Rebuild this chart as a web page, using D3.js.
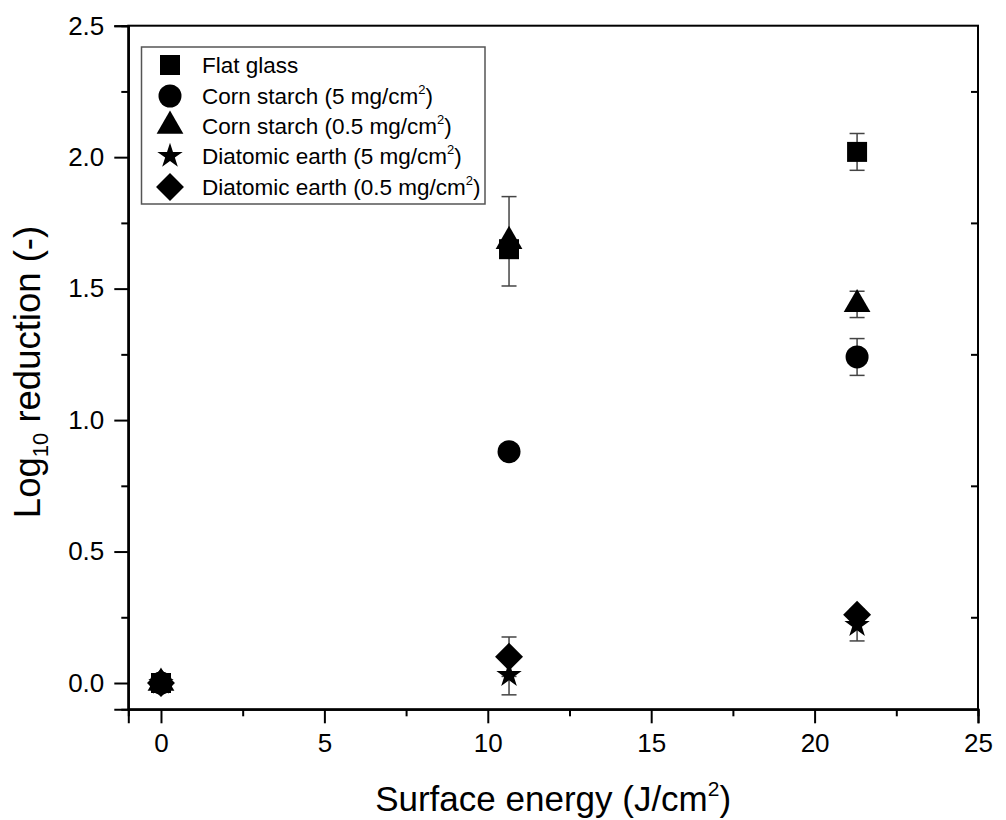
<!DOCTYPE html>
<html>
<head>
<meta charset="utf-8">
<script src="https://cdn.jsdelivr.net/npm/d3@7"></script>
<style>
  body { margin: 0; background: #fff; }
  svg { font-family: "Liberation Sans", Arial, sans-serif; }
</style>
</head>
<body>
<div id="chart"></div>
<script>
// data
var energy = [0, 10.65, 21.3];

var flatGlass = [0, 1.65, 2.02];
var flatGlassErr = [0, 0.03, 0.07];
var cornStarch5 = [0, 0.88, 1.24];
var cornStarch5Err = [0, 0.02, 0.07];
var cornStarch05 = [0, 1.68, 1.44];
var cornStarch05Err = [0, 0.17, 0.05];
var diatomic5 = [0, 0.03, 0.22];
var diatomic5Err = [0, 0.075, 0.06];
var diatomic05 = [0, 0.10, 0.26];
var diatomic05Err = [0, 0.075, 0.02];

var seriesNames = ["Flat glass", "Corn starch", "Corn starch", "Diatomic earth", "Diatomic earth"];
var seriesDose = ["", "5", "0.5", "5", "0.5"];

var xTicks = [0, 5, 10, 15, 20, 25];
var xMinor = [2.5, 7.5, 12.5, 17.5, 22.5];
var yTicks = [0, 0.5, 1.0, 1.5, 2.0, 2.5];
var yMinor = [0.25, 0.75, 1.25, 1.75, 2.25];

var w = 1006, h = 820;

var scaleX = d3.scaleLinear().domain([-1, 25]).range([128.3, 978]);
var scaleY = d3.scaleLinear().domain([-0.1, 2.5]).range([709.3, 25.7]);

var svg = d3.select("#chart").append("svg")
  .attr("width", w)
  .attr("height", h);

// symbols
var sym = [
  { type: d3.symbolSquare, size: 400, rot: 0 },
  { type: d3.symbolCircle, size: 415, rot: 0 },
  { type: d3.symbolTriangle, size: 310, rot: 0 },
  { type: d3.symbolStar, size: 200, rot: 0 },
  { type: d3.symbolSquare, size: 390, rot: 45 }
];

var series = [
  { v: flatGlass, e: flatGlassErr },
  { v: cornStarch5, e: cornStarch5Err },
  { v: cornStarch05, e: cornStarch05Err },
  { v: diatomic5, e: diatomic5Err },
  { v: diatomic05, e: diatomic05Err }
];

// axes
var xAxis = d3.axisBottom(scaleX).tickValues(xTicks).tickSize(14).tickPadding(8)
  .tickFormat(d3.format("d"));
var gx = svg.append("g")
  .attr("transform", "translate(0," + scaleY(-0.1) + ")")
  .call(xAxis);
gx.selectAll(".tick text").attr("font-size", 26).attr("dy", "0.78em");

svg.append("g")
  .attr("transform", "translate(0," + scaleY(-0.1) + ")")
  .call(d3.axisBottom(scaleX).tickValues(xMinor).tickSize(7).tickFormat(""));

var yAxis = d3.axisLeft(scaleY).tickValues(yTicks).tickSize(14).tickPadding(10)
  .tickFormat(d3.format(".1f"));
var gy = svg.append("g")
  .attr("transform", "translate(" + scaleX(-1) + ",0)")
  .call(yAxis);
gy.selectAll(".tick text").attr("font-size", 26);

svg.append("g")
  .attr("transform", "translate(" + scaleX(-1) + ",0)")
  .call(d3.axisLeft(scaleY).tickValues(yMinor).tickSize(7).tickFormat(""));

// right side minor ticks point inward
svg.append("g")
  .attr("transform", "translate(" + scaleX(25) + ",0)")
  .call(d3.axisLeft(scaleY).tickValues(yMinor).tickSize(7).tickFormat(""))
  .select(".domain").remove();

svg.selectAll(".domain").attr("stroke-width", 2);
svg.selectAll(".tick line").attr("stroke-width", 2);
svg.selectAll(".tick text").attr("fill", "#000");

// frame
svg.append("rect")
  .attr("x", scaleX(-1))
  .attr("y", scaleY(2.5))
  .attr("width", scaleX(25) - scaleX(-1))
  .attr("height", scaleY(-0.1) - scaleY(2.5))
  .attr("fill", "none")
  .attr("stroke", "#000")
  .attr("stroke-width", 2);

// error bars
var eb = svg.append("g").attr("stroke", "#444").attr("stroke-width", 1.5);
series.forEach(function (s) {
  energy.forEach(function (x, i) {
    if (!s.e[i]) return;
    var cx = scaleX(x), y1 = scaleY(s.v[i] + s.e[i]), y2 = scaleY(s.v[i] - s.e[i]);
    eb.append("line").attr("x1", cx).attr("x2", cx).attr("y1", y1).attr("y2", y2);
    eb.append("line").attr("x1", cx - 7.5).attr("x2", cx + 7.5).attr("y1", y1).attr("y2", y1);
    eb.append("line").attr("x1", cx - 7.5).attr("x2", cx + 7.5).attr("y1", y2).attr("y2", y2);
  });
});

// markers
series.forEach(function (s, k) {
  svg.append("g")
    .selectAll("path")
    .data(energy)
    .enter()
    .append("path")
    .attr("d", d3.symbol().type(sym[k].type).size(sym[k].size))
    .attr("transform", function (d, i) {
      return "translate(" + scaleX(d) + "," + scaleY(s.v[i]) + ") rotate(" + sym[k].rot + ")";
    })
    .attr("fill", "#000");
});

// legend
var lg = svg.append("g");
lg.append("rect")
  .attr("x", 141.5).attr("y", 47)
  .attr("width", 343.5).attr("height", 157)
  .attr("fill", "#fff")
  .attr("stroke", "#555")
  .attr("stroke-width", 1.5);

var rowY = [65, 96, 126, 156, 187];
seriesNames.forEach(function (name, k) {
  lg.append("path")
    .attr("d", d3.symbol().type(sym[k].type).size(sym[k].size))
    .attr("transform", "translate(170," + rowY[k] + ") rotate(" + sym[k].rot + ")")
    .attr("fill", "#000");
  var t = lg.append("text")
    .attr("x", 202)
    .attr("y", rowY[k] + 8)
    .attr("font-size", 22.5)
    .attr("fill", "#000");
  if (seriesDose[k] === "") {
    t.text(name);
  } else {
    t.append("tspan").text(name + " (" + seriesDose[k] + " mg/cm");
    t.append("tspan").attr("font-size", 13).attr("dy", -10).text("2");
    t.append("tspan").attr("dy", 10).text(")");
  }
});

// axis titles
var xt = svg.append("text")
  .attr("x", (scaleX(-1) + scaleX(25)) / 2)
  .attr("y", 811)
  .attr("text-anchor", "middle")
  .attr("font-size", 35)
  .attr("fill", "#000");
xt.append("tspan").text("Surface energy (J/cm");
xt.append("tspan").attr("font-size", 21).attr("dy", -15).text("2");
xt.append("tspan").attr("dy", 15).text(")");

var yt = svg.append("text")
  .attr("transform", "translate(40,372) rotate(-90)")
  .attr("text-anchor", "middle")
  .attr("font-size", 36.5)
  .attr("fill", "#000");
yt.append("tspan").text("Log");
yt.append("tspan").attr("font-size", 22).attr("dy", 8).text("10");
yt.append("tspan").attr("dy", -8).text(" reduction (-)");
</script>
</body>
</html>
